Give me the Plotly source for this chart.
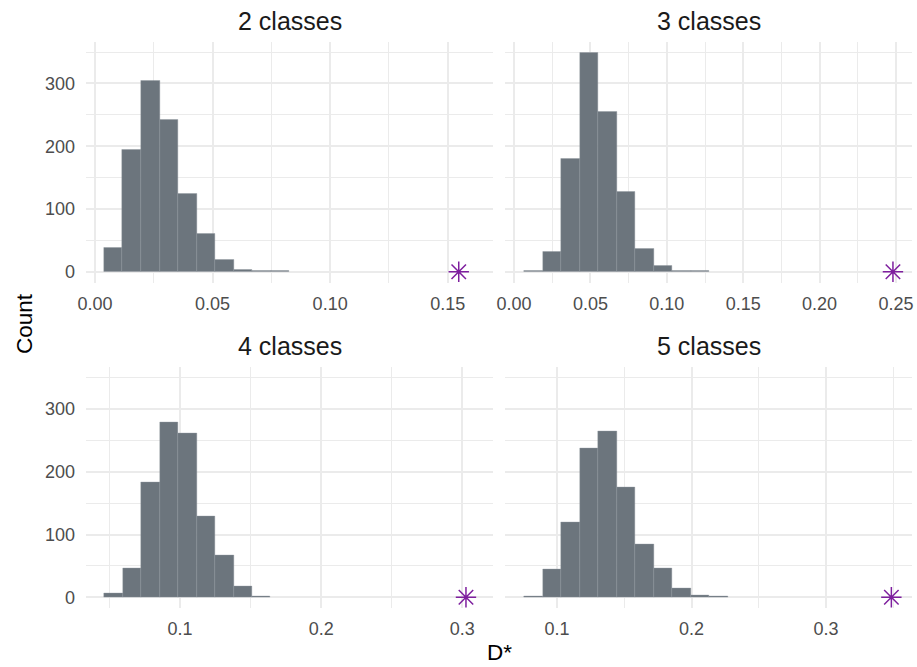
import plotly.graph_objects as go

# ---- data ----
panel_titles = ["2 classes", "3 classes", "4 classes", "5 classes"]
bin_start = [0.0038, 0.0068, 0.0462, 0.0757]
bin_width = [0.00788, 0.0121, 0.0131, 0.01375]
counts_2 = [38, 194, 305, 243, 125, 60, 19, 4, 1, 1]
counts_3 = [1, 32, 180, 349, 255, 127, 37, 10, 1, 1]
counts_4 = [6, 46, 184, 279, 262, 129, 67, 18, 2]
counts_5 = [1, 44, 119, 237, 265, 175, 85, 46, 15, 3, 1]
observed = [0.1547, 0.2480, 0.3026, 0.3486]
x_ranges = [[-0.00383, 0.16927], [-0.00589, 0.26047], [0.0334, 0.32175], [0.06134, 0.36394]]
x_major = [[0.00, 0.05, 0.10, 0.15], [0.00, 0.05, 0.10, 0.15, 0.20, 0.25], [0.1, 0.2, 0.3], [0.1, 0.2, 0.3]]
x_minor = [[0.025, 0.075, 0.125], [0.025, 0.075, 0.125, 0.175, 0.225], [0.05, 0.15, 0.25], [0.15, 0.25, 0.35]]
x_fmt = [".2f", ".2f", ".1f", ".1f"]
y_major = [0, 100, 200, 300]
y_minor = [50, 150, 250, 350]
y_range = [-17.5, 366.5]
all_counts = [counts_2, counts_3, counts_4, counts_5]

# ---- style ----
FONT = "Liberation Sans, Arial, sans-serif"
BAR_FILL = "#6C757D"
BAR_LINE = "#8E969D"
STAR = "#7E1F9E"
GRID = "#EBEBEB"

W, H = 917, 667
xdom = [[86 / W, 493 / W], [505 / W, 912 / W]]
ydom = [[1 - 282.7 / H, 1 - 41.7 / H], [1 - 608.3 / H, 1 - 367.3 / H]]

fig = go.Figure()

for i in range(4):
    n = "" if i == 0 else str(i + 1)
    xa, ya = "x" + n, "y" + n
    counts = all_counts[i]
    centers = [bin_start[i] + bin_width[i] * (k + 0.5) for k in range(len(counts))]
    fig.add_trace(go.Bar(
        x=centers, y=counts, width=bin_width[i],
        marker=dict(color=BAR_FILL, line=dict(color=BAR_LINE, width=0.4)),
        xaxis=xa, yaxis=ya, showlegend=False, hoverinfo="x+y",
    ))
    fig.add_trace(go.Scatter(
        x=[observed[i]], y=[0], mode="markers",
        marker=dict(symbol="asterisk-open", size=17, color=STAR,
                    line=dict(color=STAR, width=1.5)),
        xaxis=xa, yaxis=ya, showlegend=False, cliponaxis=False,
    ))

    col = i % 2
    row = i // 2
    axkey = "xaxis" + n
    aykey = "yaxis" + n
    fig.layout[axkey] = dict(
        domain=xdom[col], anchor=ya, range=x_ranges[i],
        tickmode="array", tickvals=x_major[i], tickformat=x_fmt[i],
        showgrid=True, gridcolor=GRID, gridwidth=2,
        minor=dict(tickmode="array", tickvals=x_minor[i], showgrid=True,
                   gridcolor=GRID, gridwidth=1),
        zeroline=False, showline=False, ticks="",
        tickfont=dict(family=FONT, size=18, color="#4D4D4D"),
        ticklabelstandoff=8, automargin=False, fixedrange=True,
    )
    fig.layout[aykey] = dict(
        domain=ydom[row], anchor=xa, range=y_range,
        tickmode="array", tickvals=y_major,
        showticklabels=(col == 0),
        showgrid=True, gridcolor=GRID, gridwidth=2,
        minor=dict(tickmode="array", tickvals=y_minor, showgrid=True,
                   gridcolor=GRID, gridwidth=1),
        zeroline=False, showline=False, ticks="",
        tickfont=dict(family=FONT, size=18, color="#4D4D4D"),
        ticklabelstandoff=10, automargin=False, fixedrange=True,
    )

annotations = []
for i in range(4):
    col = i % 2
    row = i // 2
    cx = (xdom[col][0] + xdom[col][1]) / 2
    annotations.append(dict(
        text=panel_titles[i], x=cx, y=ydom[row][1], xref="paper", yref="paper",
        xanchor="center", yanchor="bottom", yshift=5, showarrow=False,
        font=dict(family=FONT, size=25, color="#1A1A1A"),
    ))
annotations.append(dict(
    text="Count", x=24 / W, y=1 - 324 / H, xref="paper", yref="paper",
    xanchor="center", yanchor="middle", textangle=-90, showarrow=False,
    font=dict(family=FONT, size=22.5, color="#000000"),
))
annotations.append(dict(
    text="D*", x=499 / W, y=1 - 652 / H, xref="paper", yref="paper",
    xanchor="center", yanchor="middle", showarrow=False,
    font=dict(family=FONT, size=22.5, color="#000000"),
))

fig.update_layout(
    width=W, height=H,
    margin=dict(l=0, r=0, t=0, b=0),
    paper_bgcolor="white", plot_bgcolor="white",
    bargap=0, annotations=annotations,
)

fig.write_html("out.html")
